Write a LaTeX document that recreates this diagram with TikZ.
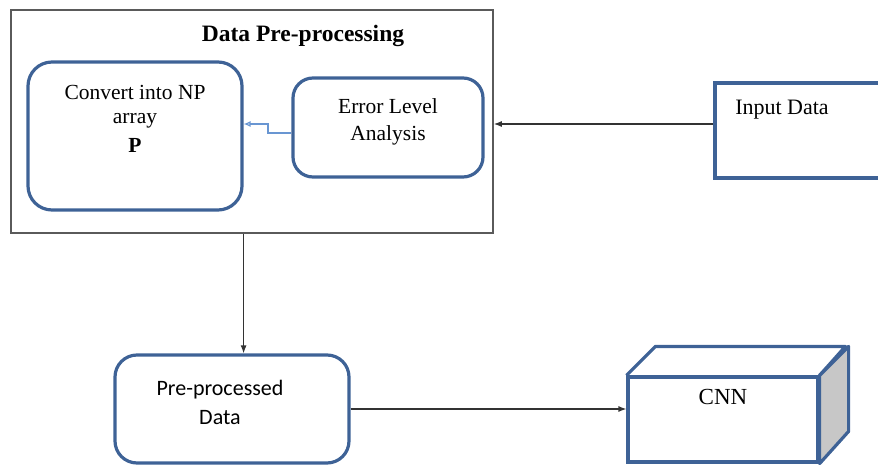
\documentclass[tikz,border=0pt]{standalone}
\usepackage{fontspec}
\setmainfont{Liberation Serif}
\newfontfamily\calibri{Carlito}
\usetikzlibrary{arrows.meta}

\definecolor{boxblue}{RGB}{62,98,150}
\definecolor{linkblue}{RGB}{105,150,210}
\definecolor{framegray}{RGB}{90,90,90}

\tikzset{
  bluebox/.style={draw=boxblue, line width=3.2pt, inner sep=0pt},
  roundbox/.style={bluebox, rounded corners=24pt},
  txt/.style={align=center, font=\fontsize{21.5}{24}\selectfont, inner sep=0pt},
  flow/.style={draw=black!80, line width=1.2pt, -{Latex[length=8pt,width=6pt]}}
}

\begin{document}
\begin{tikzpicture}[x=1pt,y=-1pt]
        \clip (0,0) rectangle (878,465);
        % Data pre-processing frame
        \node[draw=framegray, line width=1.6pt, minimum width=482pt, minimum height=223pt] (prep) at (252,121.5) {};
        \node[txt, font=\fontsize{23.5}{26}\selectfont\bfseries] (title) at (303,36) {Data Pre-processing};
        % Convert into NP array
        \node[roundbox, minimum width=214pt, minimum height=148pt] (conv) at (135,136) {};
        \node[txt] (convlbl) at (135,119) {Convert into NP\\array\\[5pt]\textbf{P}};
        % Error Level Analysis
        \node[roundbox, rounded corners=20pt, minimum width=190pt, minimum height=99pt] (ela) at (388,127.5) {};
        \node[txt, font=\fontsize{21.5}{27}\selectfont] (elalbl) at (388,122) {Error Level\\Analysis};
        % Input data (cut at the right side)
        \node[bluebox, minimum width=190pt, minimum height=95pt] (input) at (810,130.5) {};
        \node[txt, font=\fontsize{22}{24}\selectfont] (inputlbl) at (782,110) {Input Data};
        % Pre-processed data
        \node[roundbox, rounded corners=22pt, minimum width=234pt, minimum height=108pt] (pre) at (232,409) {};
        \node[txt, font=\fontsize{22}{29}\calibri] (prelbl) at (220,402) {Pre-processed\\Data};
        % CNN block: front, top and side faces
        \node[bluebox, minimum width=190pt, minimum height=85pt] (cnn) at (723,419.5) {};
        \draw[boxblue, line width=3.2pt, line join=round] (cnn.north west) -- ++(29,-29) -- ++(190,0) -- (cnn.north east);
        \filldraw[draw=boxblue, fill=black!22, line width=3.2pt, line join=round] (cnn.north east) -- ++(29,-29) -- ++(0,85) -- (cnn.south east) -- cycle;
        \node[txt, font=\fontsize{23}{24}\selectfont] (cnnlbl) at (723,397) {CNN};
        % Connectors
        \coordinate (bend) at (268,124);
        \draw[linkblue, line width=1.2pt, -{Latex[open,length=7pt,width=6pt]}] ([yshift=-5.5pt]ela.west) -| (bend) -- (bend -| conv.east);
        \draw[flow] ([yshift=6.5pt]input.west) -- ([yshift=6.5pt]input.west -| prep.east);
        \draw[flow] (prep.south -| conv.east) -- (pre.north -| conv.east);
        \draw[flow] (pre.east) -- (pre.east -| cnn.west);
\end{tikzpicture}
\end{document}
